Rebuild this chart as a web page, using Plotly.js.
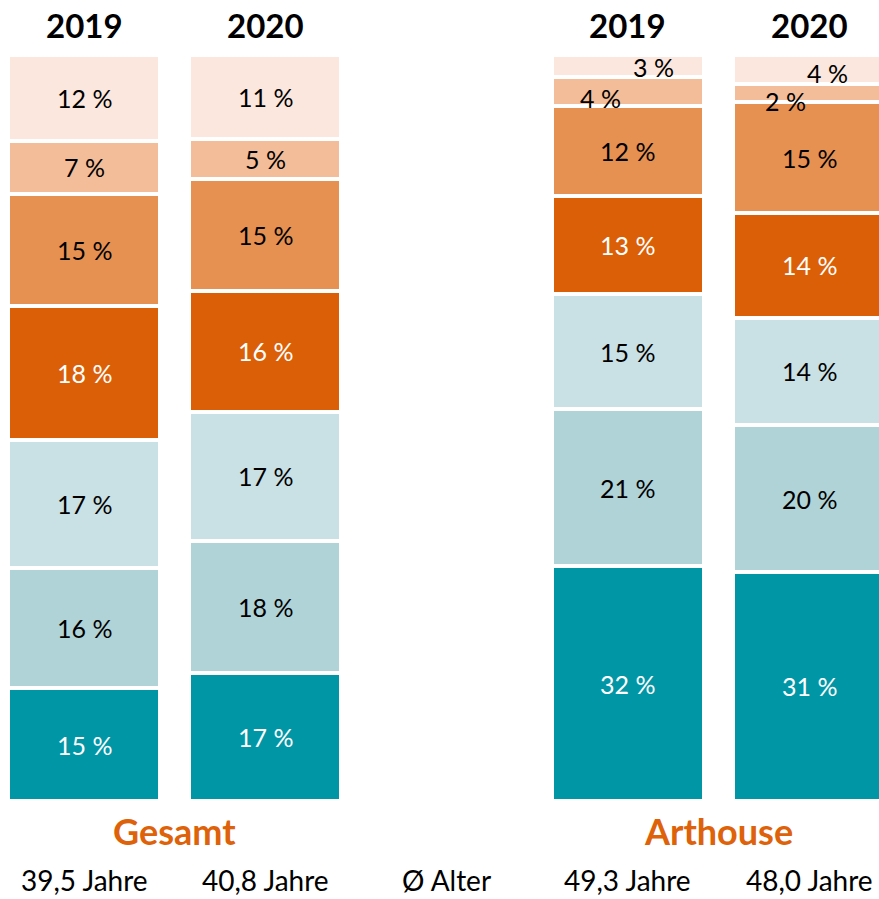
<!DOCTYPE html>
<html>
<head>
<meta charset="utf-8">
<script src="https://cdn.plot.ly/plotly-3.0.1.min.js"></script>
<style>html,body{margin:0;padding:0;background:#fff;}#chart{width:879px;height:899px;}</style>
</head>
<body>
<div id="chart"></div>
<script>
// ---- data ----
const barPositions = [0, 1, 3, 4];
const years = ["2019", "2020", "2019", "2020"];
const groupNames = ["Gesamt", "Arthouse"];
const groupCenters = [0.5, 3.5];
const ages = ["39,5 Jahre", "40,8 Jahre", "49,3 Jahre", "48,0 Jahre"];
const ageTitle = "Ø Alter";
const ageTitlePos = 2;

// age bands, bottom to top (percent of audience)
const seg0 = [15.1, 17.1, 31.5, 30.7];
const seg1 = [16.2, 17.7, 21.0, 19.7];
const seg2 = [17.1, 17.4, 15.4, 14.4];
const seg3 = [18.0, 16.2, 13.2, 14.0];
const seg4 = [15.0, 15.0, 12.0, 14.9];
const seg5 = [7.1, 5.4, 3.9, 2.4];
const seg6 = [11.5, 11.2, 3.0, 3.9];

// ---- styles ----
const segments = [seg0, seg1, seg2, seg3, seg4, seg5, seg6];
const colors = ["#0096A6", "#B0D3D8", "#C9E1E5", "#DB5F06", "#E69152", "#F3BD99", "#FBE7DD"];
const textColors = ["#fff", "#000", "#000", "#fff", "#000", "#000", "#000"];
const FONT = "Lato, 'Open Sans', sans-serif";
// label offsets for tiny segments: key "seg,bar" -> [xshift, yshift]
const labelOffsets = {"6,2": [26, -1], "5,2": [-27, -6.5], "6,3": [18.5, -3.5], "5,3": [-24, -7.7]};

const traces = segments.map((vals, j) => ({
  type: "bar",
  x: barPositions,
  y: vals,
  width: 0.838,
  marker: {color: colors[j], line: {color: "#fff", width: 4}},
  hoverinfo: "none",
  showlegend: false
}));

const annotations = [];
barPositions.forEach((xp, i) => {
  let cum = 0;
  segments.forEach((vals, j) => {
    const v = vals[i];
    const off = labelOffsets[j + "," + i] || [0, 0];
    annotations.push({
      x: xp, y: cum + v / 2, xref: "x", yref: "y",
      text: Math.round(v) + " %", showarrow: false,
      xshift: off[0], yshift: off[1],
      font: {family: FONT, size: 25, color: textColors[j]}
    });
    cum += v;
  });
  annotations.push({
    x: xp, y: 1, xref: "x", yref: "paper", yanchor: "middle", yshift: 30,
    text: "<b>" + years[i] + "</b>", showarrow: false,
    font: {family: FONT, size: 33, color: "#000"}
  });
  annotations.push({
    x: xp, y: 0, xref: "x", yref: "paper", yanchor: "middle", yshift: -79,
    text: ages[i], showarrow: false,
    font: {family: FONT, size: 28, color: "#000"}
  });
});
groupNames.forEach((g, k) => {
  annotations.push({
    x: groupCenters[k], y: 0, xref: "x", yref: "paper", yanchor: "middle", yshift: -30,
    text: "<b>" + g + "</b>", showarrow: false,
    font: {family: FONT, size: 36, color: "#DE6209"}
  });
});
annotations.push({
  x: ageTitlePos, y: 0, xref: "x", yref: "paper", yanchor: "middle", yshift: -79,
  text: ageTitle, showarrow: false,
  font: {family: FONT, size: 28, color: "#000"}
});

const layout = {
  width: 879, height: 899,
  margin: {l: 0, r: 0, t: 55, b: 98, pad: 0},
  paper_bgcolor: "#fff", plot_bgcolor: "#fff",
  barmode: "stack",
  xaxis: {range: [-0.4633, 4.385], visible: false, fixedrange: true},
  yaxis: {range: [0, 100], visible: false, fixedrange: true},
  annotations: annotations,
  showlegend: false
};

Plotly.newPlot("chart", traces, layout, {displayModeBar: false, staticPlot: true});
</script>
</body>
</html>
